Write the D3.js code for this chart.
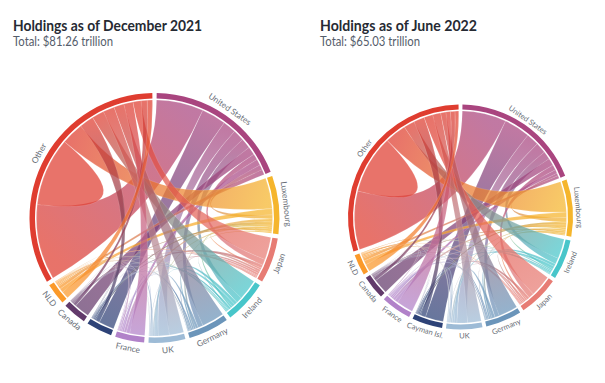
<!DOCTYPE html>
<html>
<head>
<meta charset="utf-8">
<script src="https://cdn.jsdelivr.net/npm/d3@7"></script>
<style>
html,body{margin:0;padding:0;background:#fff}
svg{display:block}
text{font-family:Lato,"Noto Sans",sans-serif}
</style>
</head>
<body>
<svg id="c" width="605" height="383"></svg>
<script>
const leftTitle = "Holdings as of December 2021";
const leftSub = "Total: $81.26 trillion";
const rightTitle = "Holdings as of June 2022";
const rightSub = "Total: $65.03 trillion";

const leftCategories = ["United States","Luxembourg","Japan","Ireland","Germany","UK","France","Cayman Isl.","Canada","NLD","Other"];
const leftLabels = ["United States","Luxembourg","Japan","Ireland","Germany","UK","France","","Canada","NLD","Other"];
const leftColors = ["#a9457f","#f5b52c","#e77c74","#48c6ca","#6b95ba","#9dbbd6","#b182c9","#2d4277","#623a6b","#fb9a2a","#df3d30"];
//                        US   Lux  Jap  Ire  Ger  UK   Fr   Cay  Can  NLD  Oth
const leftMatrix = [
  /* US  */ [0,   2.5, 3,   5,   5.5, 6.5, 3,   12,  4,   2.5, 23],
  /* Lux */ [2,   0,   0.5, 1,   0.5, 1,   1.5, 1.5, 1,   3,   15],
  /* Jap */ [3,   1,   0,   1,   1,   1,   0.5, 1.5, 0.5, 0.5, 11],
  /* Ire */ [3,   1,   0.5, 0,   1.5, 1.5, 0.5, 1,   0.5, 0.5, 10],
  /* Ger */ [2.5, 1,   0.4, 0.8, 0,   1.2, 0.6, 0.7, 0.2, 0.5, 11],
  /* UK  */ [5.5, 0.7, 0.3, 0.9, 1,   0,   0.5, 0.7, 0.2, 0.2, 7],
  /* Fr  */ [1.8, 1.2, 0.2, 0.4, 0.7, 0.8, 0,   0.4, 0.2, 0.5, 7.3],
  /* Cay */ [7.5, 0.7, 0.4, 0.3, 0.2, 0.5, 0.1, 0,   0.2, 0.1, 2],
  /* Can */ [7.5, 0.4, 0.2, 0.2, 0.3, 0.5, 0.1, 0.2, 0,   0.1, 1.5],
  /* NLD */ [1.5, 2,   0.3, 0.4, 0.6, 0.6, 0.5, 0.2, 0.2, 0,   3.6],
  /* Oth */ [37,  11,  4,   6,   5,   5.5, 4.5, 7,   3,   2.5, 33.5]
];

const rightCategories = ["United States","Luxembourg","Ireland","Japan","Germany","UK","Cayman Isl.","France","Canada","NLD","Other"];
const rightLabels = ["United States","Luxembourg","Ireland","Japan","Germany","UK","Cayman Isl.","France","Canada","NLD","Other"];
const rightColors = ["#a9457f","#f5b52c","#48c6ca","#e77c74","#6b95ba","#9dbbd6","#2d4277","#b182c9","#623a6b","#fb9a2a","#df3d30"];
//                         US   Lux  Ire  Jap  Ger  UK   Cay  Fr   Can  NLD  Oth
const rightMatrix = [
  /* US  */ [0,   1.5, 4.5, 3,   6,   7,   14.5,2,   4,   1.5, 24.5],
  /* Lux */ [2.5, 0,   1,   0.6, 0.8, 1,   1.6, 1.4, 1,   3.1, 17],
  /* Ire */ [3.5, 1,   0,   0.7, 1.5, 1.5, 0.7, 0.5, 0.3, 0.3, 11],
  /* Jap */ [3,   1,   0.8, 0,   0.8, 1,   1.5, 0.5, 0.4, 0.5, 12],
  /* Ger */ [2.5, 1,   0.9, 0.4, 0,   1.6, 0.7, 0.6, 0.2, 0.4, 10.7],
  /* UK  */ [6,   0.9, 1,   0.3, 1.5, 0,   0.8, 0.5, 0.2, 0.3, 7.5],
  /* Cay */ [10,  0.8, 0.4, 0.6, 0.4, 0.7, 0,   0.1, 0.1, 0.1, 2.8],
  /* Fr  */ [2,   1.3, 0.5, 0.3, 0.8, 0.9, 0.4, 0,   0.2, 0.3, 9.3],
  /* Can */ [8.3, 0.4, 0.2, 0.3, 0.4, 0.6, 0.2, 0.2, 0,   0.1, 1.8],
  /* NLD */ [1.6, 2.2, 0.4, 0.3, 0.7, 0.7, 0.25,0.6, 0.25,0,   4],
  /* Oth */ [32.5,12,  6,   5,   3,   4.4, 6,   2.5, 2.5, 2,   32.5]
];

const svg = d3.select("#c");
const defs = svg.append("defs");

function header(x, title, sub, titleWidth){
  svg.append("text").attr("x",x).attr("y",30.5)
    .attr("font-size",15).attr("font-weight",700).attr("fill","#262a33")
    .attr("textLength",titleWidth).attr("lengthAdjust","spacingAndGlyphs").text(title);
  svg.append("text").attr("x",x).attr("y",46)
    .attr("font-size",12.6).attr("fill","#555d6b")
    .attr("textLength",100).attr("lengthAdjust","spacingAndGlyphs").text(sub);
}

function chordChart(id, cx, cy, R, band, ribGap, labelOff, labelSize, matrix, labels, colors){
  const rIn = R - band, rRib = rIn - ribGap;
  const layout = d3.chord().padAngle(2*Math.PI/180).sortSubgroups(d3.descending);
  const chords = layout(matrix);
  const rot = 1;
  const root = svg.append("g").attr("transform",`translate(${cx},${cy})`);
  const marks = root.append("g").attr("transform",`rotate(${rot})`);
  const ribbon = d3.ribbon().radius(rRib);
  const arc = d3.arc().innerRadius(rIn).outerRadius(R);
  const mid = d => (d.startAngle + d.endAngle)/2;
  const pt = a => [rRib*Math.sin(a), -rRib*Math.cos(a)];

  marks.append("g").selectAll("path").data(chords).join("path")
    .attr("d", ribbon)
    .attr("fill",(d,i)=>{
      const gid = `${id}-g${i}`;
      const [x1,y1] = pt(mid(d.source)), [x2,y2] = pt(mid(d.target));
      const g = defs.append("linearGradient").attr("id",gid)
        .attr("gradientUnits","userSpaceOnUse")
        .attr("x1",x1).attr("y1",y1).attr("x2",x2).attr("y2",y2);
      g.append("stop").attr("offset","0%").attr("stop-color",colors[d.source.index]);
      g.append("stop").attr("offset","100%").attr("stop-color",colors[d.target.index]);
      return `url(#${gid})`;
    })
    .attr("fill-opacity",0.72)
    .attr("stroke","#fff").attr("stroke-opacity",0.3).attr("stroke-width",0.4);

  marks.append("g").selectAll("path").data(chords.groups).join("path")
    .attr("d", arc).attr("fill",d=>colors[d.index]);

  root.append("g").selectAll("text").data(chords.groups).join("text")
    .attr("transform",d=>{
      const a = mid(d)*180/Math.PI + rot;
      const flip = a>90 && a<270;
      return `rotate(${a}) translate(0,${-(R+labelOff)})` + (flip?" rotate(180)":"");
    })
    .attr("text-anchor","middle").attr("dominant-baseline","central")
    .attr("font-size",labelSize).attr("fill","#6a6f78")
    .text(d=>labels[d.index]);
}

header(13, leftTitle, leftSub, 189);
header(320, rightTitle, rightSub, 157);
chordChart("a",154.5,218,125,5.5,1.5,7.5,8.4,leftMatrix,leftLabels,leftColors);
chordChart("b",460.5,217,112.5,5,1.5,6,7.6,rightMatrix,rightLabels,rightColors);
</script>
</body>
</html>
